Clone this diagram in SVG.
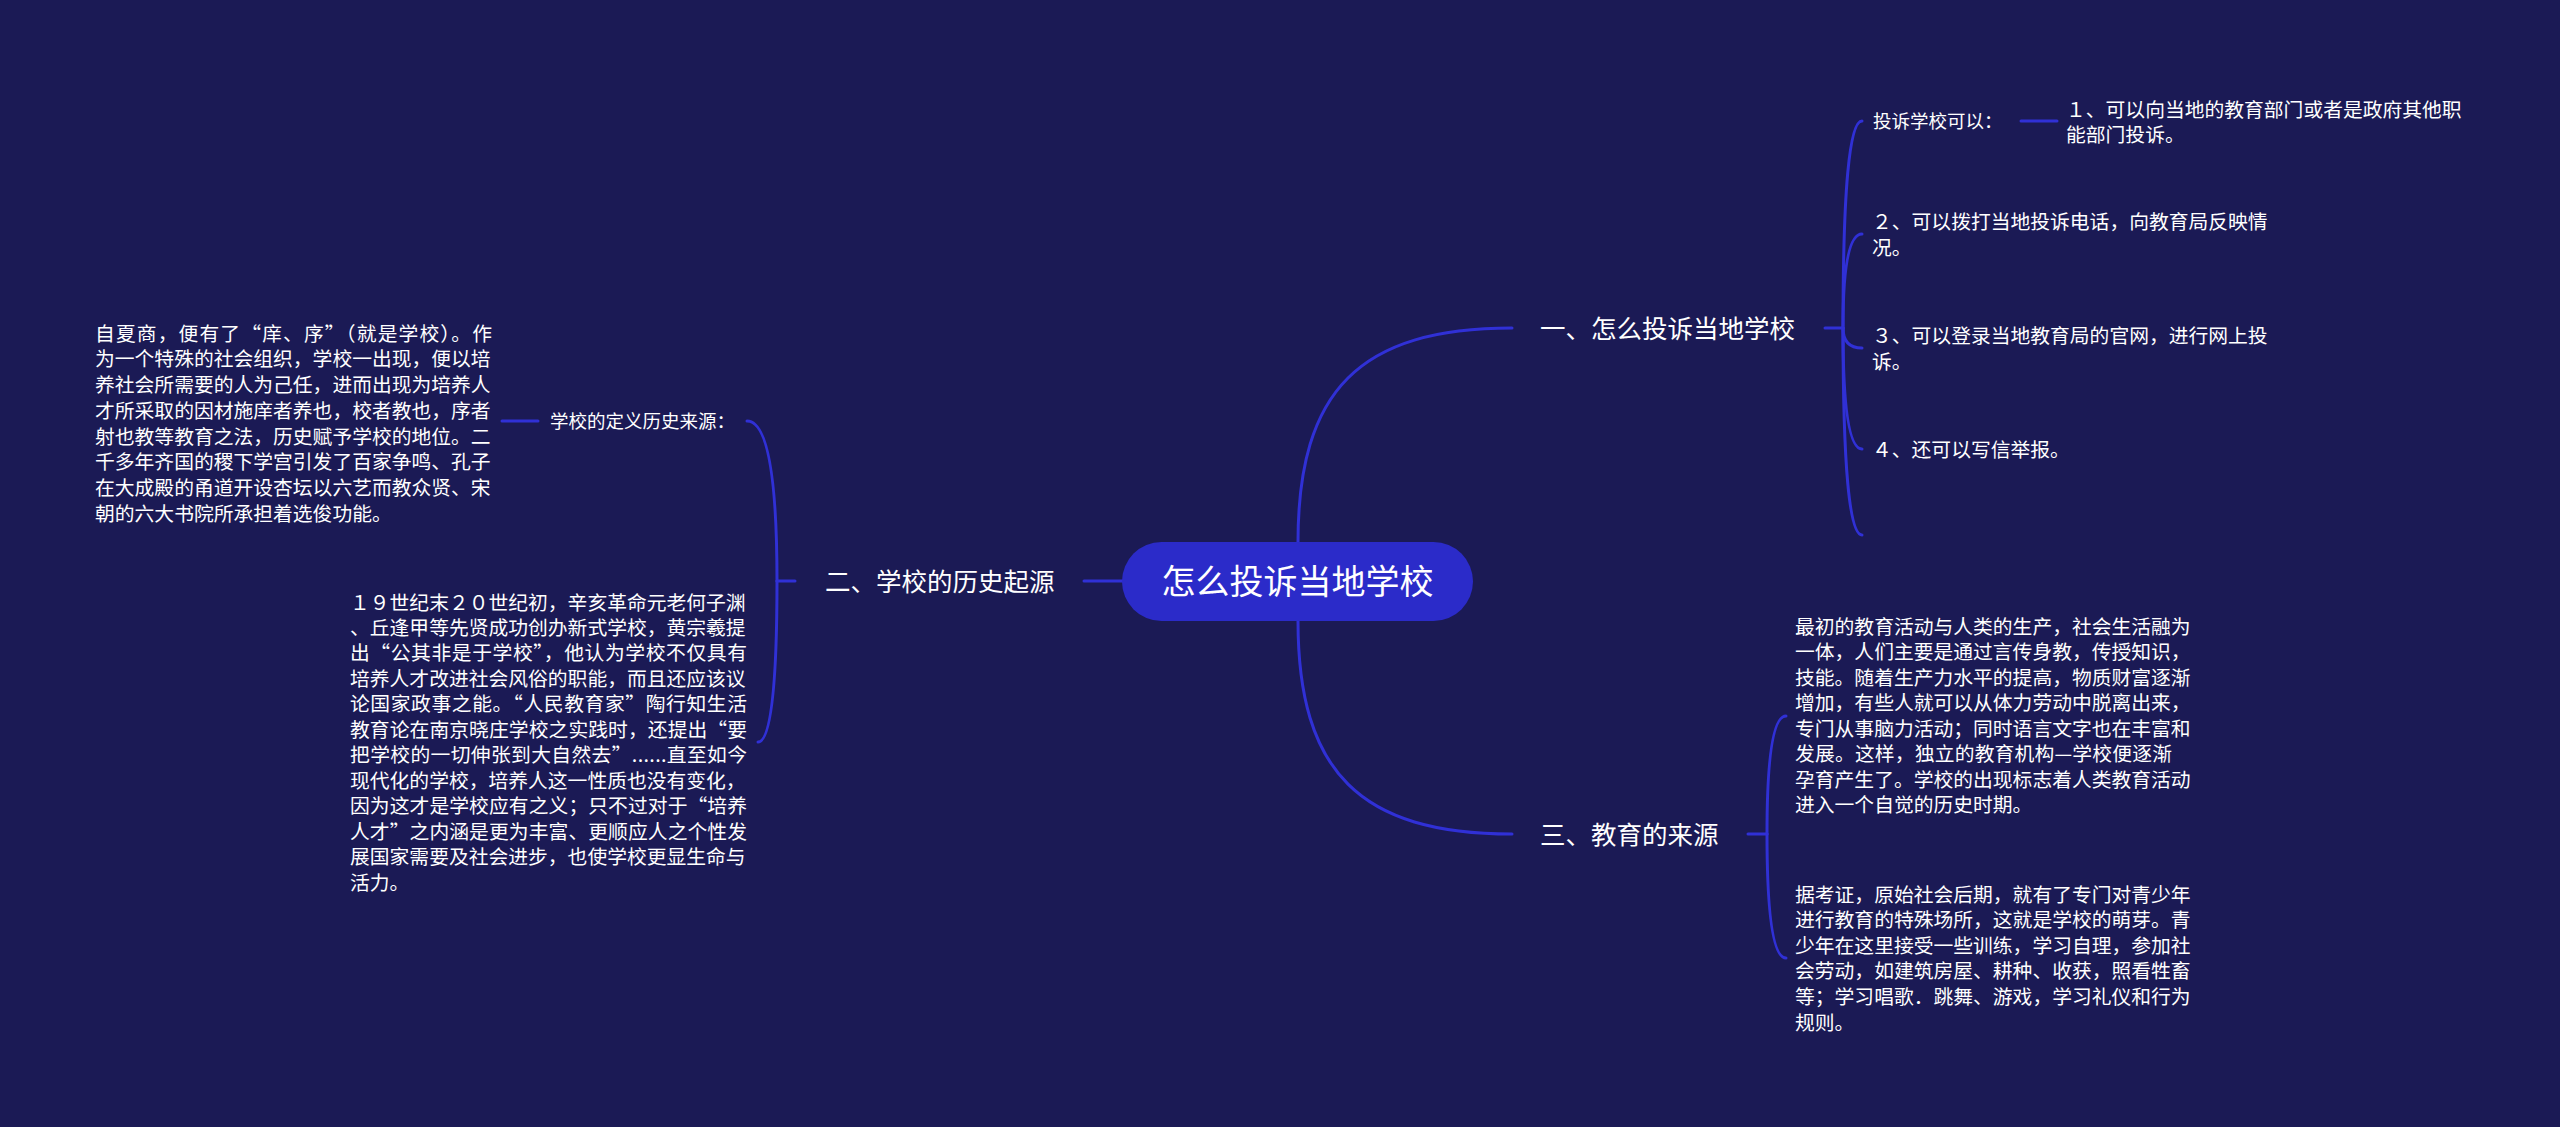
<svg xmlns="http://www.w3.org/2000/svg" width="2560" height="1127" viewBox="0 0 2560 1127">
<style>
.bg{fill:#1b1a55}
.ln{fill:none;stroke:#3030d6;stroke-width:3;stroke-linecap:round}
text{font-family:"Noto Sans CJK SC","Noto Sans",sans-serif;fill:#ffffff}
.t{font-size:19.8px}
.lb{font-size:18.5px}
.br{font-size:25.5px}
.rt{font-size:34px}
</style>
<rect class="bg" x="0" y="0" width="2560" height="1127"/>
<g id="connectors">
<path class="ln" d="M1298,542 C1298,390 1360,328 1512,328"/>
<path class="ln" d="M1298,621 C1298,772 1360,834 1512,834"/>
<path class="ln" d="M1084,581 L1124,581"/>
<path class="ln" d="M777,581 L795,581"/>
<path class="ln" d="M1825,328 L1843,328"/>
<path class="ln" d="M1748,834 L1767,834"/>
<path class="ln" d="M1843,328 Q1843,121 1862,121"/>
<path class="ln" d="M1843,328 Q1843,234 1862,234"/>
<path class="ln" d="M1843,328 Q1843,348 1862,348"/>
<path class="ln" d="M1843,328 Q1843,449 1862,449"/>
<path class="ln" d="M1843,328 Q1843,535 1862,535"/>
<path class="ln" d="M1767,834 Q1767,716 1786,716"/>
<path class="ln" d="M1767,834 Q1767,958 1786,958"/>
<path class="ln" d="M777,581 Q777,421 747,421"/>
<path class="ln" d="M777,581 Q777,742 758,742"/>
<path class="ln" d="M2021,121 L2057,121"/>
<path class="ln" d="M502,421 L538,421"/>
</g>
<g id="root">
<rect x="1122" y="542" width="351" height="79" rx="39.5" fill="#2b2bc9"/>
<text class="rt" x="1297.5" y="593.5" text-anchor="middle">怎么投诉当地学校</text>
</g>
<g id="branch1">
<text class="br" x="1540" y="337.5">一、怎么投诉当地学校</text>
</g>
<g id="branch2">
<text class="br" x="825" y="590.5">二、学校的历史起源</text>
</g>
<g id="branch3">
<text class="br" x="1540" y="843.5">三、教育的来源</text>
</g>
<g id="b1-label">
<text class="lb" x="1873" y="127.5">投诉学校可以：</text>
</g>
<g id="b1-label-child">
<text class="t" x="2066"><tspan x="2066" y="116.5">１、可以向当地的教育部门或者是政府其他职</tspan><tspan x="2066" y="141.5">能部门投诉。</tspan></text>
</g>
<g id="b1-item2">
<text class="t" x="1872"><tspan x="1872" y="228.5">２、可以拨打当地投诉电话，向教育局反映情</tspan><tspan x="1872" y="254.5">况。</tspan></text>
</g>
<g id="b1-item3">
<text class="t" x="1872"><tspan x="1872" y="342.5">３、可以登录当地教育局的官网，进行网上投</tspan><tspan x="1872" y="368.5">诉。</tspan></text>
</g>
<g id="b1-item4">
<text class="t" x="1872" y="456.5">４、还可以写信举报。</text>
</g>
<g id="b2-label">
<text class="lb" x="550" y="427.5">学校的定义历史来源：</text>
</g>
<g id="b2-label-child">
<text class="t" x="95" y="340.5" textLength="397" lengthAdjust="spacing">自夏商，便有了“庠、序”（就是学校）。作</text>
<text class="t">
<tspan x="95" y="366.25">为一个特殊的社会组织，学校一出现，便以培</tspan>
<tspan x="95" y="392">养社会所需要的人为己任，进而出现为培养人</tspan>
<tspan x="95" y="417.75">才所采取的因材施庠者养也，校者教也，序者</tspan>
<tspan x="95" y="443.5">射也教等教育之法，历史赋予学校的地位。二</tspan>
<tspan x="95" y="469.25">千多年齐国的稷下学宫引发了百家争鸣、孔子</tspan>
<tspan x="95" y="495">在大成殿的甬道开设杏坛以六艺而教众贤、宋</tspan>
<tspan x="95" y="520.75">朝的六大书院所承担着选俊功能。</tspan>
</text>
</g>
<g id="b2-item2">
<text class="t">
<tspan x="350" y="609.5">１９世纪末２０世纪初，辛亥革命元老何子渊</tspan>
<tspan x="350" y="635">、丘逢甲等先贤成功创办新式学校，黄宗羲提</tspan>
</text>
<text class="t" x="350" y="660.4" textLength="397" lengthAdjust="spacing">出“公其非是于学校”，他认为学校不仅具有</text>
<text class="t" x="350" y="685.9">培养人才改进社会风俗的职能，而且还应该议</text>
<text class="t" x="350" y="711.3" textLength="397" lengthAdjust="spacing">论国家政事之能。“人民教育家”陶行知生活</text>
<text class="t" x="350" y="736.8" textLength="397" lengthAdjust="spacing">教育论在南京晓庄学校之实践时，还提出“要</text>
<text class="t" x="350" y="762.2" textLength="397" lengthAdjust="spacing">把学校的一切伸张到大自然去”......直至如今</text>
<text class="t" x="350" y="787.7">现代化的学校，培养人这一性质也没有变化，</text>
<text class="t" x="350" y="813.1" textLength="397" lengthAdjust="spacing">因为这才是学校应有之义；只不过对于“培养</text>
<text class="t" x="350" y="838.6" textLength="397" lengthAdjust="spacing">人才”之内涵是更为丰富、更顺应人之个性发</text>
<text class="t">
<tspan x="350" y="864">展国家需要及社会进步，也使学校更显生命与</tspan>
<tspan x="350" y="889.5">活力。</tspan>
</text>
</g>
<g id="b3-item1">
<text class="t">
<tspan x="1795" y="633.5">最初的教育活动与人类的生产，社会生活融为</tspan>
<tspan x="1795" y="659">一体，人们主要是通过言传身教，传授知识，</tspan>
<tspan x="1795" y="684.5">技能。随着生产力水平的提高，物质财富逐渐</tspan>
<tspan x="1795" y="710">增加，有些人就可以从体力劳动中脱离出来，</tspan>
<tspan x="1795" y="735.5">专门从事脑力活动；同时语言文字也在丰富和</tspan>
</text>
<text class="t" x="1795" y="761" textLength="377" lengthAdjust="spacing">发展。这样，独立的教育机构—学校便逐渐</text>
<text class="t">
<tspan x="1795" y="786.5">孕育产生了。学校的出现标志着人类教育活动</tspan>
<tspan x="1795" y="812">进入一个自觉的历史时期。</tspan>
</text>
</g>
<g id="b3-item2">
<text class="t">
<tspan x="1795" y="901.5">据考证，原始社会后期，就有了专门对青少年</tspan>
<tspan x="1795" y="927.1">进行教育的特殊场所，这就是学校的萌芽。青</tspan>
<tspan x="1795" y="952.7">少年在这里接受一些训练，学习自理，参加社</tspan>
<tspan x="1795" y="978.3">会劳动，如建筑房屋、耕种、收获，照看牲畜</tspan>
<tspan x="1795" y="1003.9">等；学习唱歌．跳舞、游戏，学习礼仪和行为</tspan>
<tspan x="1795" y="1029.5">规则。</tspan>
</text>
</g>
</svg>
